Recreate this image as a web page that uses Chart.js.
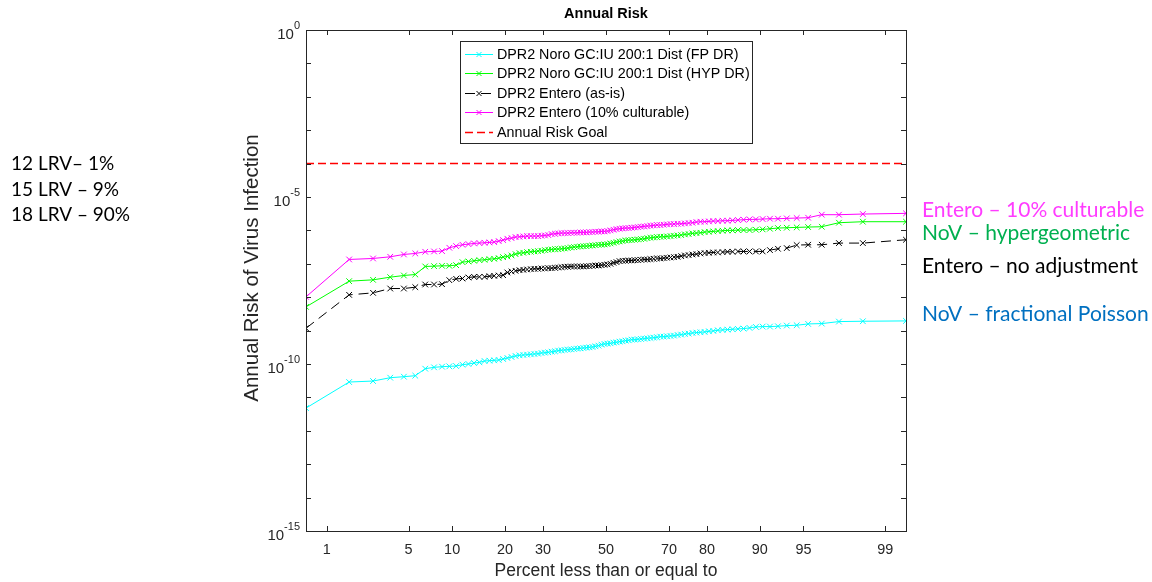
<!DOCTYPE html>
<html lang="en">
<head>
  <meta charset="UTF-8">
  <title>Annual Risk</title>
  <script src="https://cdn.jsdelivr.net/npm/chart.js@4.4.1/dist/chart.umd.min.js"></script>
  <style>
    html, body { margin: 0; padding: 0; background: #fff; }
    #wrap { width: 1152px; height: 582px; position: relative; }
  </style>
</head>
<body>
  <div id="wrap"><canvas id="chart" width="1152" height="582"></canvas></div>

  <script>
    // percent ticks on the normal probability axis
    var tickPercents = [1, 5, 10, 20, 30, 50, 70, 80, 90, 95, 99]

    var seriesLabels = [
      'DPR2 Noro GC:IU 200:1 Dist (FP DR)',
      'DPR2 Noro GC:IU 200:1 Dist (HYP DR)',
      'DPR2 Entero (as-is)',
      'DPR2 Entero (10% culturable)',
      'Annual Risk Goal'
    ]

    // log10 of the annual risk, sorted samples
    var cyanFP = [
      -11.32, -10.54, -10.51, -10.41, -10.38, -10.35, -10.14, -10.10, -10.08, -10.07,
      -10.06, -10.02, -10.00, -9.97, -9.95, -9.91, -9.90, -9.89, -9.88, -9.85,
      -9.82, -9.79, -9.76, -9.74, -9.73, -9.72, -9.71, -9.70, -9.69, -9.67,
      -9.66, -9.65, -9.63, -9.62, -9.60, -9.59, -9.58, -9.57, -9.56, -9.55,
      -9.54, -9.53, -9.52, -9.51, -9.50, -9.49, -9.47, -9.45, -9.42, -9.40,
      -9.39, -9.38, -9.36, -9.35, -9.33, -9.32, -9.30, -9.29, -9.27, -9.27,
      -9.26, -9.25, -9.24, -9.23, -9.22, -9.21, -9.20, -9.18, -9.18, -9.17,
      -9.16, -9.15, -9.13, -9.12, -9.10, -9.09, -9.07, -9.06, -9.05, -9.04,
      -9.02, -9.01, -8.99, -8.98, -8.97, -8.96, -8.95, -8.94, -8.92, -8.89,
      -8.88, -8.88, -8.87, -8.85, -8.84, -8.80, -8.79, -8.73, -8.72, -8.71
    ]
    var greenHYP = [
      -8.29, -7.52, -7.48, -7.40, -7.35, -7.32, -7.08, -7.07, -7.06, -7.06,
      -7.04, -6.95, -6.93, -6.91, -6.89, -6.88, -6.86, -6.85, -6.83, -6.80,
      -6.78, -6.75, -6.71, -6.68, -6.67, -6.65, -6.64, -6.63, -6.62, -6.61,
      -6.59, -6.58, -6.57, -6.56, -6.56, -6.55, -6.54, -6.53, -6.51, -6.50,
      -6.49, -6.48, -6.47, -6.47, -6.46, -6.45, -6.44, -6.43, -6.43, -6.42,
      -6.41, -6.39, -6.37, -6.35, -6.33, -6.32, -6.30, -6.29, -6.29, -6.28,
      -6.27, -6.26, -6.25, -6.23, -6.22, -6.21, -6.20, -6.19, -6.19, -6.18,
      -6.17, -6.16, -6.15, -6.14, -6.12, -6.11, -6.09, -6.08, -6.07, -6.05,
      -6.04, -6.03, -6.02, -6.01, -6.00, -6.00, -5.99, -5.99, -5.99, -5.98,
      -5.97, -5.95, -5.93, -5.92, -5.91, -5.90, -5.89, -5.77, -5.74, -5.74
    ]
    var blackAsIs = [
      -8.93, -7.93, -7.87, -7.74, -7.74, -7.70, -7.62, -7.62, -7.61, -7.49,
      -7.45, -7.44, -7.41, -7.39, -7.39, -7.39, -7.37, -7.36, -7.35, -7.34,
      -7.26, -7.23, -7.21, -7.19, -7.18, -7.17, -7.16, -7.15, -7.15, -7.14,
      -7.14, -7.13, -7.13, -7.12, -7.11, -7.10, -7.09, -7.09, -7.08, -7.08,
      -7.08, -7.08, -7.08, -7.07, -7.07, -7.06, -7.05, -7.05, -7.04, -7.03,
      -7.02, -7.00, -6.97, -6.95, -6.92, -6.91, -6.91, -6.90, -6.90, -6.89,
      -6.89, -6.88, -6.87, -6.87, -6.86, -6.85, -6.84, -6.84, -6.83, -6.82,
      -6.81, -6.80, -6.79, -6.77, -6.75, -6.74, -6.72, -6.71, -6.69, -6.68,
      -6.67, -6.66, -6.66, -6.65, -6.64, -6.64, -6.63, -6.63, -6.63, -6.63,
      -6.63, -6.59, -6.55, -6.53, -6.44, -6.43, -6.43, -6.38, -6.38, -6.28
    ]
    var magenta10 = [
      -7.99, -6.87, -6.84, -6.79, -6.72, -6.69, -6.64, -6.63, -6.62, -6.52,
      -6.47, -6.43, -6.41, -6.39, -6.38, -6.37, -6.36, -6.35, -6.32, -6.29,
      -6.25, -6.23, -6.20, -6.19, -6.18, -6.17, -6.17, -6.17, -6.17, -6.16,
      -6.15, -6.14, -6.11, -6.10, -6.09, -6.08, -6.08, -6.08, -6.07, -6.07,
      -6.07, -6.06, -6.06, -6.06, -6.05, -6.05, -6.04, -6.04, -6.03, -6.03,
      -6.02, -6.00, -5.98, -5.96, -5.95, -5.94, -5.93, -5.93, -5.92, -5.91,
      -5.90, -5.89, -5.88, -5.87, -5.86, -5.85, -5.84, -5.84, -5.83, -5.82,
      -5.81, -5.81, -5.80, -5.80, -5.79, -5.78, -5.77, -5.75, -5.74, -5.74,
      -5.73, -5.72, -5.72, -5.71, -5.71, -5.70, -5.69, -5.68, -5.67, -5.67,
      -5.66, -5.65, -5.65, -5.64, -5.63, -5.62, -5.53, -5.53, -5.51, -5.49
    ]
    var riskGoal = 1e-4

    var leftNotes = ['12 LRV\u2013 1%', '15 LRV \u2013 9%', '18 LRV \u2013 90%']
    var rightNotes = [
      { text: 'Entero \u2013 10% culturable', color: '#ff3cff' },
      { text: 'NoV \u2013 hypergeometric', color: '#00b050' },
      { text: 'Entero \u2013 no adjustment', color: '#000000' },
      { text: 'NoV \u2013 fractional Poisson', color: '#0070c0' }
    ]

    // inverse normal cdf (Acklam) for the probability axis
    function qnorm(p) {
      var a = [-39.69683028665376, 220.9460984245205, -275.9285104469687, 138.3577518672690, -30.66479806614716, 2.506628277459239]
      var b = [-54.47609879822406, 161.5858368580409, -155.6989798598866, 66.80131188771972, -13.28068155288572]
      var c = [-0.007784894002430293, -0.3223964580411365, -2.400758277161838, -2.549732539343734, 4.374664141464968, 2.938163982698783]
      var d = [0.007784695709041462, 0.3224671290700398, 2.445134137142996, 3.754408661907416]
      var q, r
      if (p < 0.02425) {
        q = Math.sqrt(-2 * Math.log(p))
        return (((((c[0]*q+c[1])*q+c[2])*q+c[3])*q+c[4])*q+c[5]) / ((((d[0]*q+d[1])*q+d[2])*q+d[3])*q+1)
      }
      if (p > 1 - 0.02425) {
        q = Math.sqrt(-2 * Math.log(1 - p))
        return -(((((c[0]*q+c[1])*q+c[2])*q+c[3])*q+c[4])*q+c[5]) / ((((d[0]*q+d[1])*q+d[2])*q+d[3])*q+1)
      }
      q = p - 0.5
      r = q * q
      return (((((a[0]*r+a[1])*r+a[2])*r+a[3])*r+a[4])*r+a[5])*q / (((((b[0]*r+b[1])*r+b[2])*r+b[3])*r+b[4])*r+1)
    }

    // plotting positions of the sorted samples, as normplot does
    function toPoints(logs) {
      var n = logs.length
      return logs.map(function (v, i) {
        return { x: qnorm((i + 1 - 0.375) / (n + 0.25)), y: Math.pow(10, v) }
      })
    }

    var n = cyanFP.length
    var xMin = qnorm((1 - 0.375) / (n + 0.25))
    var xMax = qnorm((n - 0.375) / (n + 0.25))

    function series(label, logs, color, dash) {
      return {
        label: label,
        data: toPoints(logs),
        borderColor: color,
        backgroundColor: color,
        borderWidth: 1,
        borderDash: dash || [],
        pointStyle: 'crossRot',
        pointRadius: 4,
        pointHoverRadius: 4,
        pointBorderWidth: 1,
        pointBorderColor: color,
        tension: 0,
        fill: false
      }
    }

    var datasets = [
      series(seriesLabels[0], cyanFP, '#00ffff'),
      series(seriesLabels[1], greenHYP, '#00ff00'),
      series(seriesLabels[2], blackAsIs, '#000000', [10, 6]),
      series(seriesLabels[3], magenta10, '#ff00ff'),
      {
        label: seriesLabels[4],
        data: [{ x: xMin, y: riskGoal }, { x: xMax, y: riskGoal }],
        borderColor: '#ff0000',
        borderWidth: 1.5,
        borderDash: [8, 4],
        pointRadius: 0,
        fill: false
      }
    ]

    var axisColor = '#262626'
    var sans = '"Liberation Sans", Arial, sans-serif'

    var decorations = {
      id: 'decorations',
      afterDraw: function (chart) {
        var ctx = chart.ctx
        var area = chart.chartArea
        var xs = chart.scales.x
        var ys = chart.scales.y
        ctx.save()
        ctx.strokeStyle = axisColor
        ctx.lineWidth = 1
        ctx.setLineDash([])
        ctx.strokeRect(Math.round(area.left) + 0.5, Math.round(area.top) + 0.5,
          Math.round(area.right - area.left), Math.round(area.bottom - area.top))

        // inward ticks, one per decade on y
        ctx.beginPath()
        for (var e = 0; e >= -15; e--) {
          var py = Math.round(ys.getPixelForValue(Math.pow(10, e))) + 0.5
          ctx.moveTo(area.left, py); ctx.lineTo(area.left + 5, py)
          ctx.moveTo(area.right, py); ctx.lineTo(area.right - 5, py)
        }
        tickPercents.forEach(function (p) {
          var px = Math.round(xs.getPixelForValue(qnorm(p / 100))) + 0.5
          ctx.moveTo(px, area.bottom); ctx.lineTo(px, area.bottom - 5)
          ctx.moveTo(px, area.top); ctx.lineTo(px, area.top + 5)
        })
        ctx.stroke()

        // title over the axes
        ctx.fillStyle = '#000000'
        ctx.font = 'bold 14.5px ' + sans
        ctx.textAlign = 'center'
        ctx.textBaseline = 'middle'
        ctx.fillText('Annual Risk', (area.left + area.right) / 2, 14)

        // y axis label
        ctx.save()
        ctx.translate(252, 268)
        ctx.rotate(-Math.PI / 2)
        ctx.fillStyle = axisColor
        ctx.font = '20.5px ' + sans
        ctx.fillText('Annual Risk of Virus Infection', 0, 0)
        ctx.restore()

        // y labels 10^e
        ctx.fillStyle = axisColor
        ctx.textBaseline = 'middle'
        ;[0, -5, -10, -15].forEach(function (e) {
          var py = ys.getPixelForValue(Math.pow(10, e))
          var exp = String(e)
          ctx.font = '11px ' + sans
          var we = ctx.measureText(exp).width
          var right = area.left - 6
          ctx.textAlign = 'left'
          ctx.fillText(exp, right - we, py - 4)
          ctx.font = '15px ' + sans
          ctx.textAlign = 'right'
          ctx.fillText('10', right - we, py + 5)
        })

        // legend inside the axes
        var lx = 460.5, ly = 41.5, lw = 292, lh = 102
        ctx.fillStyle = '#ffffff'
        ctx.fillRect(lx, ly, lw, lh)
        ctx.strokeStyle = axisColor
        ctx.lineWidth = 1
        ctx.strokeRect(lx, ly, lw, lh)
        ctx.font = '14.3px ' + sans
        ctx.textAlign = 'left'
        ctx.textBaseline = 'middle'
        chart.data.datasets.forEach(function (ds, i) {
          var rowY = Math.round(54 + i * 19.4) + 0.5
          ctx.strokeStyle = ds.borderColor
          ctx.lineWidth = ds.borderWidth
          ctx.setLineDash(ds.borderDash || [])
          ctx.beginPath()
          ctx.moveTo(465, rowY); ctx.lineTo(493, rowY)
          ctx.stroke()
          ctx.setLineDash([])
          if (ds.pointRadius) {
            ctx.lineWidth = 1
            ctx.beginPath()
            ctx.moveTo(476.5, rowY - 2.5); ctx.lineTo(481.5, rowY + 2.5)
            ctx.moveTo(476.5, rowY + 2.5); ctx.lineTo(481.5, rowY - 2.5)
            ctx.stroke()
          }
          ctx.fillStyle = '#000000'
          ctx.fillText(ds.label, 497, rowY + 0.5)
        })

        // side notes
        ctx.textBaseline = 'alphabetic'
        ctx.textAlign = 'left'
        ctx.font = '19px Lato, "Open Sans", sans-serif'
        ctx.fillStyle = '#000000'
        leftNotes.forEach(function (t, i) {
          ctx.fillText(t, 11, 170 + i * 25.5)
        })
        ctx.font = '21px Lato, "Open Sans", sans-serif'
        var noteY = [217, 240, 273, 321]
        rightNotes.forEach(function (nt, i) {
          ctx.fillStyle = nt.color
          ctx.fillText(nt.text, 922, noteY[i])
        })
        ctx.restore()
      }
    }

    var ctx = document.getElementById('chart').getContext('2d')
    var chart = new Chart(ctx, {
      type: 'line',
      data: { datasets: datasets },
      options: {
        responsive: false,
        animation: false,
        layout: { padding: { left: 240, right: 246, top: 30, bottom: 0 } },
        plugins: {
          legend: { display: false },
          tooltip: { enabled: false },
          title: { display: false }
        },
        scales: {
          x: {
            type: 'linear',
            min: xMin,
            max: xMax,
            afterBuildTicks: function (scale) {
              scale.ticks = tickPercents.map(function (p) { return { value: qnorm(p / 100) } })
            },
            afterFit: function (scale) { scale.height = 51 },
            grid: { display: false, drawTicks: false },
            border: { display: false },
            ticks: {
              autoSkip: false,
              maxRotation: 0,
              padding: 10,
              color: axisColor,
              font: { family: sans, size: 14.4 },
              callback: function (value, index) { return String(tickPercents[index]) }
            },
            title: {
              display: true,
              text: 'Percent less than or equal to',
              color: axisColor,
              font: { family: sans, size: 17.5 },
              padding: { top: 0, bottom: 0 }
            }
          },
          y: {
            type: 'logarithmic',
            min: 1e-15,
            max: 1,
            afterFit: function (scale) { scale.width = 66 },
            grid: { display: false, drawTicks: false },
            border: { display: false },
            ticks: { display: false },
            title: { display: false }
          }
        }
      },
      plugins: [decorations]
    })
  </script>
</body>
</html>
